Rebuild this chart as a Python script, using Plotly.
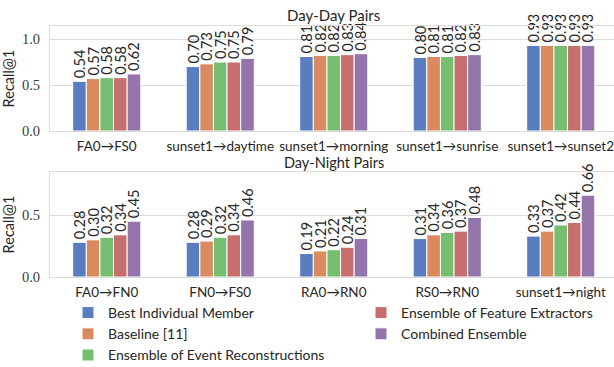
import plotly.graph_objects as go
from plotly.subplots import make_subplots

series = ["Best Individual Member", "Baseline [11]", "Ensemble of Event Reconstructions",
          "Ensemble of Feature Extractors", "Combined Ensemble"]
colors = ["#597DBF", "#D98B5F", "#76BF71", "#C76E6E", "#9475AB"]
legend_of = ["legend", "legend", "legend", "legend2", "legend2"]

day_cats = ["FA0→FS0", "sunset1→daytime", "sunset1→morning", "sunset1→sunrise", "sunset1→sunset2"]
day_vals = [
    [0.54, 0.70, 0.81, 0.80, 0.93],
    [0.57, 0.73, 0.82, 0.81, 0.93],
    [0.58, 0.75, 0.82, 0.81, 0.93],
    [0.58, 0.75, 0.83, 0.82, 0.93],
    [0.62, 0.79, 0.84, 0.83, 0.93],
]

night_cats = ["FA0→FN0", "FN0→FS0", "RA0→RN0", "RS0→RN0", "sunset1→night"]
night_vals = [
    [0.28, 0.28, 0.19, 0.31, 0.33],
    [0.30, 0.29, 0.21, 0.34, 0.37],
    [0.32, 0.32, 0.22, 0.36, 0.42],
    [0.34, 0.34, 0.24, 0.37, 0.44],
    [0.45, 0.46, 0.31, 0.48, 0.66],
]

W, H = 614, 367
L = 50
SANS = "Lato"
SERIF = "Liberation Serif"
TXT = "#262626"

fig = make_subplots(rows=2, cols=1)

for i, name in enumerate(series):
    for row, cats, vals in ((1, day_cats, day_vals), (2, night_cats, night_vals)):
        fig.add_trace(go.Bar(
            x=cats, y=vals[i], name=name, legendgroup=name, showlegend=(row == 1),
            legend=legend_of[i],
            marker=dict(color=colors[i], line=dict(color="white", width=1)),
            text=[f"{v:.2f}" for v in vals[i]], textposition="outside", textangle=-90,
            constraintext="none", cliponaxis=False,
            textfont=dict(family=SANS, size=14.5, color=TXT),
        ), row=row, col=1)

def ydom(top_px, bot_px):
    return [1 - bot_px / H, 1 - top_px / H]

pw = W - L
xr = [-0.5, -0.5 + pw / 113.5]
grid = "#dcdcdc"
common_x = dict(range=xr, showgrid=False, showline=True, linecolor=grid, linewidth=1,
                mirror=True, ticks="", automargin=False, ticklabelstandoff=3,
                tickfont=dict(family=SANS, size=13.5, color=TXT))
common_y = dict(showgrid=True, gridcolor=grid, gridwidth=1, showline=True, linecolor=grid,
                linewidth=1, mirror=True, zeroline=False, ticks="", automargin=False,
                ticklabelstandoff=6,
                tickfont=dict(family=SERIF, size=14.5, color="#3a3a3a"),
                title=dict(text="Recall@1", font=dict(family=SANS, size=14.5, color=TXT), standoff=3))

leg_common = dict(orientation="v", xanchor="left", yanchor="top", y=1 - 297 / H,
                  tracegroupgap=5, traceorder="normal",
                  font=dict(family=SANS, size=14, color=TXT), bgcolor="rgba(0,0,0,0)")

fig.update_layout(
    width=W, height=H, margin=dict(l=L, r=0, t=0, b=0, autoexpand=False),
    paper_bgcolor="white", plot_bgcolor="white",
    barmode="group", bargap=0.4, bargroupgap=0,
    xaxis=dict(domain=[0, 1], anchor="y", **common_x),
    xaxis2=dict(domain=[0, 1], anchor="y2", **common_x),
    yaxis=dict(domain=ydom(26, 131), range=[0, 105 / 92], tickvals=[0, 0.5, 1.0],
               ticktext=["0.0", "0.5", "1.0"], **common_y),
    yaxis2=dict(domain=ydom(172, 277), range=[0, 105 / 124], tickvals=[0, 0.5],
                ticktext=["0.0", "0.5"], **common_y),
    legend=dict(x=(68 - L) / pw, **leg_common),
    legend2=dict(x=(361 - L) / pw, **leg_common),
    showlegend=True,
)

xc = (333.5 - L) / pw
fig.add_annotation(text="Day-Day Pairs", x=xc, y=1 - 15 / H, xref="paper", yref="paper",
                   showarrow=False, xanchor="center", yanchor="middle",
                   font=dict(family=SANS, size=15, color=TXT))
fig.add_annotation(text="Day-Night Pairs", x=xc, y=1 - 162 / H, xref="paper", yref="paper",
                   showarrow=False, xanchor="center", yanchor="middle",
                   font=dict(family=SANS, size=14.5, color=TXT))

fig.write_html("out.html", config={"displayModeBar": False},
               post_script="document.body.style.margin='0px';")
